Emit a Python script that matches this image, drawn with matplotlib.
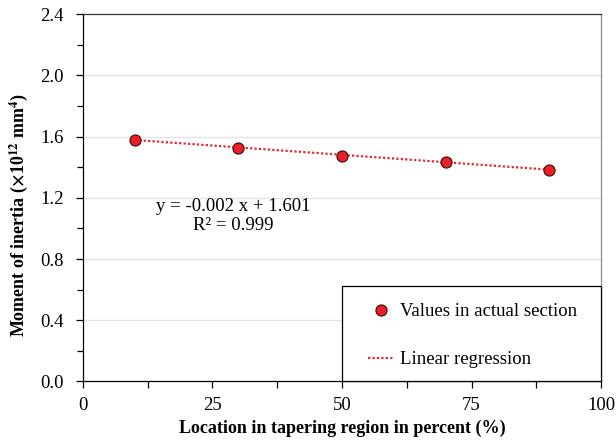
import numpy as np
import matplotlib.pyplot as plt
from matplotlib.patches import Rectangle
from matplotlib.ticker import MultipleLocator

plt.rcParams['font.family'] = ['Liberation Serif', 'DejaVu Serif']
plt.rcParams['mathtext.fontset'] = 'stix'

# location along tapering region (%) and moment of inertia (x10^12 mm^4)
location = [10, 30, 50, 70, 90]
inertia = [1.580, 1.528, 1.476, 1.435, 1.384]

slope, intercept = np.polyfit(location, inertia, 1)
fit_x = np.array([location[0], location[-1]])
fit_y = slope * fit_x + intercept

fig = plt.figure(figsize=(6.16, 4.4), dpi=100)
ax = fig.add_axes([0.1347, 0.133, 0.841, 0.835])

ax.plot(fit_x, fit_y, linestyle=(0, (1, 1)), color='#e8262b', linewidth=1.6,
        label='Linear regression', zorder=2)
ax.plot(location, inertia, 'o', markersize=8, markerfacecolor='#e8202a',
        markeredgecolor='#3a0a0a', markeredgewidth=0.8,
        label='Values in actual section', zorder=3)

ax.set_xlim(0, 100)
ax.set_ylim(0, 2.4)
ax.xaxis.set_major_locator(MultipleLocator(25))
ax.xaxis.set_minor_locator(MultipleLocator(12.5))
ax.yaxis.set_major_locator(MultipleLocator(0.4))
ax.yaxis.set_minor_locator(MultipleLocator(0.2))
ax.yaxis.set_major_formatter(lambda v, p: f'{v:.1f}')
for g in [0.4, 0.8, 1.2, 1.6, 2.0]:
    ax.axhline(g, color='#e4e4e4', linewidth=1.0, zorder=0)

ax.spines['top'].set_color('#333333')
ax.spines['right'].set_color('#8a8a8a')
for s in ax.spines.values():
    s.set_linewidth(0.9)
ax.spines['left'].set_color('black')
ax.spines['bottom'].set_color('black')

ax.tick_params(which='both', direction='out', width=0.9, labelsize=13.5, colors='black')
ax.tick_params(which='major', length=5)
ax.tick_params(which='minor', length=4)
ax.tick_params(axis='x', which='both', length=5, pad=6)
ax.tick_params(axis='y', pad=9)

ax.set_xlabel('Location in tapering region in percent (%)', fontsize=13,
              fontweight='bold', labelpad=4)
ax.set_ylabel('Moment of inertia ($\\mathbf{\\times}$10$^{\\mathbf{12}}$ mm$^{\\mathbf{4}}$)',
              fontsize=13, fontweight='bold')
ax.yaxis.set_label_coords(-0.102, 0.453)

ax.text(29, 1.08, 'y = -0.002 x + 1.601\nR² = 0.999', ha='center', va='center',
        fontsize=13.5, linespacing=1.2)

# legend box in the lower right corner
ax.add_patch(Rectangle((0.5, 0.0), 0.5, 0.261, transform=ax.transAxes,
                       facecolor='white', edgecolor='black', linewidth=0.9,
                       zorder=4, clip_on=False))
handles, labels = ax.get_legend_handles_labels()
leg = ax.legend(handles[::-1], labels[::-1], loc='upper left',
                bbox_to_anchor=(0.550, 0.2136), borderaxespad=0, borderpad=0,
                frameon=False, fontsize=13.5, labelspacing=1.65,
                handlelength=1.4, handletextpad=0.3)
leg.set_zorder(5)

fig.savefig('out.png', dpi=100)
